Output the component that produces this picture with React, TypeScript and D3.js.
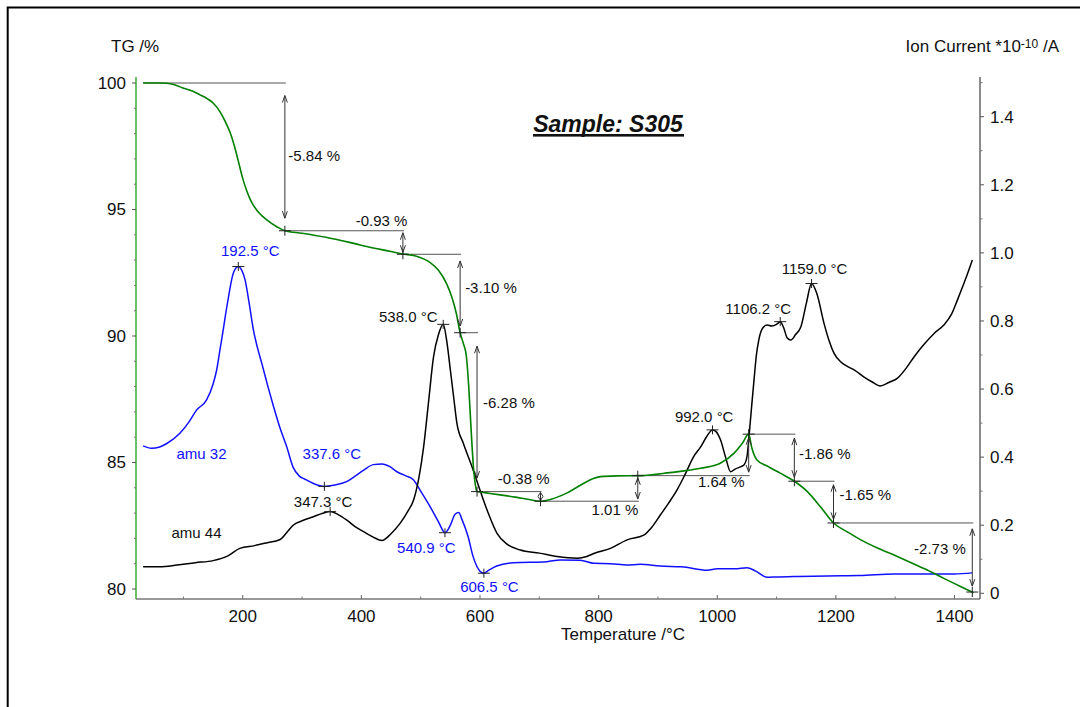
import React from 'react';
import * as d3 from 'd3';

// TG curve (mass %, left axis)
const tgTemps = [32, 60, 72, 85, 99, 115, 128, 140, 150, 162, 170, 179, 186, 192, 200, 207, 212, 217, 228, 241, 258, 271, 300, 340, 380, 420, 450, 470, 490, 516, 530, 544, 553, 560, 566.5, 572, 577, 581, 585, 589, 593, 595, 610, 634, 660, 680, 702, 720, 747, 775, 790, 803, 830, 870, 920, 972, 1005, 1028, 1042, 1053, 1058, 1067, 1085, 1107, 1130, 1152, 1174, 1196, 1220, 1242, 1270, 1298, 1326, 1354, 1382, 1411, 1432];
const tgValues = [100, 100, 99.99, 99.93, 99.8, 99.68, 99.53, 99.38, 99.21, 98.85, 98.5, 98.02, 97.5, 96.96, 96.22, 95.72, 95.43, 95.2, 94.85, 94.58, 94.31, 94.16, 94.06, 93.9, 93.7, 93.48, 93.34, 93.24, 93.17, 92.9, 92.6, 92.05, 91.5, 90.9, 90.13, 89.7, 89.2, 88.0, 86.3, 84.8, 84.0, 83.85, 83.8, 83.72, 83.63, 83.55, 83.47, 83.55, 83.8, 84.18, 84.36, 84.44, 84.47, 84.48, 84.6, 84.77, 84.97, 85.36, 85.75, 86.12, 85.6, 85.1, 84.85, 84.57, 84.26, 83.85, 83.25, 82.61, 82.25, 81.94, 81.62, 81.34, 81.05, 80.75, 80.42, 80.09, 79.85];

// Ion current, m/z 32 (right axis, 1e-10 A)
const amu32Temps = [32, 46, 60, 72, 94, 110, 122, 139, 150, 156, 162, 167, 172, 176, 184, 192.5, 198, 204, 211, 218, 225, 232, 242, 252, 262, 274, 285, 295, 305, 320, 337.6, 355, 375, 390, 404, 420, 435, 448, 460, 475, 488, 500, 516, 530, 540.9, 550, 558, 564, 570, 580, 588, 595, 600, 606.5, 615, 628, 656, 713, 735, 769, 792, 820, 848, 870, 904, 940, 983, 1000, 1030, 1050, 1065, 1084, 1100, 1129, 1186, 1240, 1298, 1354, 1400, 1430];
const amu32Values = [0.433, 0.426, 0.43, 0.44, 0.47, 0.505, 0.538, 0.568, 0.615, 0.656, 0.72, 0.773, 0.83, 0.871, 0.94, 0.96, 0.95, 0.92, 0.85, 0.773, 0.72, 0.676, 0.61, 0.548, 0.49, 0.431, 0.37, 0.345, 0.335, 0.322, 0.314, 0.318, 0.328, 0.345, 0.362, 0.378, 0.38, 0.372, 0.357, 0.345, 0.333, 0.3, 0.254, 0.21, 0.178, 0.2, 0.232, 0.237, 0.215, 0.166, 0.11, 0.078, 0.065, 0.059, 0.068, 0.08, 0.09, 0.093, 0.098, 0.097, 0.088, 0.087, 0.083, 0.085, 0.08, 0.078, 0.068, 0.072, 0.072, 0.075, 0.065, 0.047, 0.048, 0.049, 0.051, 0.052, 0.057, 0.057, 0.057, 0.06];

// Ion current, m/z 44 (right axis, 1e-10 A)
const amu44Temps = [32, 60, 89, 120, 150, 175, 195, 220, 240, 263, 275, 285, 300, 319, 335, 347.3, 360, 375.5, 390, 403.6, 420, 434.6, 450, 465.5, 478, 488, 497, 505, 513, 521.7, 530, 538, 544, 550, 556, 561, 572, 586.5, 600, 614, 628.7, 645, 668, 700, 730, 764, 780, 792, 820, 848, 876, 890, 904, 918, 932, 946, 960, 972, 982, 992, 998, 1005.6, 1014, 1022.5, 1030, 1040, 1045, 1050, 1053, 1058, 1062, 1066, 1070, 1077, 1084, 1092, 1100, 1106.2, 1112, 1118, 1124, 1132, 1141, 1150, 1159, 1168, 1180, 1189, 1197, 1208, 1220, 1232, 1247, 1262, 1274.5, 1290, 1304, 1318, 1332, 1348, 1366, 1382, 1395, 1405, 1418, 1430];
const amu44Values = [0.078, 0.078, 0.083, 0.09, 0.096, 0.11, 0.132, 0.14, 0.148, 0.158, 0.18, 0.2, 0.213, 0.225, 0.235, 0.24, 0.232, 0.215, 0.195, 0.181, 0.165, 0.155, 0.175, 0.206, 0.24, 0.274, 0.34, 0.431, 0.558, 0.695, 0.76, 0.79, 0.74, 0.656, 0.57, 0.5, 0.44, 0.372, 0.303, 0.235, 0.176, 0.145, 0.127, 0.118, 0.108, 0.103, 0.108, 0.117, 0.132, 0.157, 0.171, 0.195, 0.23, 0.265, 0.303, 0.35, 0.401, 0.43, 0.46, 0.48, 0.475, 0.45, 0.4, 0.357, 0.365, 0.372, 0.377, 0.4, 0.45, 0.55, 0.627, 0.7, 0.744, 0.78, 0.788, 0.785, 0.79, 0.798, 0.78, 0.75, 0.744, 0.76, 0.783, 0.85, 0.91, 0.88, 0.793, 0.74, 0.705, 0.68, 0.666, 0.655, 0.636, 0.62, 0.609, 0.62, 0.632, 0.66, 0.695, 0.73, 0.764, 0.788, 0.82, 0.862, 0.92, 0.979];

// Mass-loss steps: boundary temperatures and the change in each step (%)
const stepTemps = [32, 271, 470, 566.5, 595, 702, 866, 1053, 1130, 1196, 1430];
const stepChanges = [-5.84, -0.93, -3.10, -6.28, -0.38, 1.01, 1.64, -1.86, -1.65, -2.73];

// Evaluated peak temperatures on the ion current curves (°C)
const amu32Peaks = [192.5, 337.6, 540.9, 606.5];
const amu44Peaks = [347.3, 538.0, 992.0, 1106.2, 1159.0];

// Axis ticks
const tgTicks = [80, 85, 90, 95, 100];
const tgMinorTicks = [81, 82, 83, 84, 86, 87, 88, 89, 91, 92, 93, 94, 96, 97, 98, 99];
const ionTicks = [0, 0.2, 0.4, 0.6, 0.8, 1.0, 1.2, 1.4];
const ionMinorTicks = [0.1, 0.3, 0.5, 0.7, 0.9, 1.1, 1.3, 1.5];
const tempTicks = [200, 400, 600, 800, 1000, 1200, 1400];
const tempMinorTicks = [100, 300, 500, 700, 900, 1100, 1300];

// Label placement for the step annotations
const stepLabelLayout = [
  { side: 'right', dx: 3.5, dy: 4.5 },
  { side: 'above', dx: 4.5, dy: -5 },
  { side: 'right', dx: 5, dy: 0 },
  { side: 'right', dx: 6, dy: -3.7 },
  { side: 'above', dx: 9, dy: -7.7 },
  { side: 'below', dx: 0.5, dy: 14 },
  { side: 'below', dx: -4, dy: 11 },
  { side: 'right', dx: 4.6, dy: 1 },
  { side: 'right', dx: 6, dy: -2 },
  { side: 'left', dx: -6.5, dy: -4 },
];
const amu32LabelOffsets = [[12, -10], [7.5, -27], [-18.6, 20.6], [5.6, 18.4]];
const amu44LabelOffsets = [[-7, -5], [-35, -2.6], [-8.3, -8.3], [-22, -7.7], [3, -10]];

const FONT = '"Liberation Sans", Arial, Helvetica, sans-serif';
const GREEN = '#008000';
const BLUE = '#1010ff';

function interp(ts: number[], vs: number[], t: number) {
  const i = d3.bisectLeft(ts, t);
  if (i <= 0) return vs[0];
  if (i >= ts.length) return vs[vs.length - 1];
  const t0 = ts[i - 1], t1 = ts[i];
  const f = (t - t0) / (t1 - t0);
  return vs[i - 1] + f * (vs[i] - vs[i - 1]);
}

function arrowPath(x: number, ya: number, yb: number) {
  const len = Math.abs(yb - ya);
  const gap = Math.max(0.5, 0.085 * len);
  const dir = yb > ya ? 1 : -1;
  const a = ya + dir * gap;
  const b = yb - dir * gap;
  const h = Math.min(7, Math.abs(b - a) / 2);
  const w = 2.5;
  return `M${x},${a}L${x},${b}` +
    `M${x - w},${a + dir * h}L${x},${a}L${x + w},${a + dir * h}` +
    `M${x - w},${b - dir * h}L${x},${b}L${x + w},${b - dir * h}`;
}

function crossPath(cx: number, cy: number, hw = 6, hh = 4.5) {
  return `M${cx - hw},${cy}L${cx + hw},${cy}M${cx},${cy - hh}L${cx},${cy + hh}`;
}

export default function App() {
  const x = d3.scaleLinear().domain([20, 1443]).range([136, 980]);
  const yTG = d3.scaleLinear().domain([80, 100]).range([589, 83]);
  const yIon = d3.scaleLinear().domain([0, 1.4]).range([593.3, 116.7]);

  const plotTop = 77;
  const plotBottom = 599;
  const plotLeft = x.range()[0];
  const plotRight = x.range()[1];

  const tgPath = d3.line<number>()
    .x((_, i) => x(tgTemps[i]))
    .y((v) => yTG(v))
    .curve(d3.curveMonotoneX)(tgValues) as string;
  const amu32Path = d3.line<number>()
    .x((_, i) => x(amu32Temps[i]))
    .y((v) => yIon(v))
    .curve(d3.curveMonotoneX)(amu32Values) as string;
  const amu44Path = d3.line<number>()
    .x((_, i) => x(amu44Temps[i]))
    .y((v) => yIon(v))
    .curve(d3.curveMonotoneX)(amu44Values) as string;

  // cumulative TG levels at the step boundaries
  const levels: number[] = [100];
  stepChanges.forEach((c, i) => levels.push(Math.round((levels[i] + c) * 100) / 100));

  const steps = stepChanges.map((c, i) => {
    const x0 = x(stepTemps[i]);
    const x1 = x(stepTemps[i + 1]);
    const ya = yTG(levels[i]);
    const yb = yTG(levels[i + 1]);
    const lay = stepLabelLayout[i];
    const tx = x1 + lay.dx;
    let ty = 0;
    let anchor: 'start' | 'end' = 'start';
    if (lay.side === 'right') { ty = (ya + yb) / 2 + lay.dy; anchor = 'start'; }
    else if (lay.side === 'left') { ty = (ya + yb) / 2 + lay.dy; anchor = 'end'; }
    else { ty = ya + lay.dy; anchor = 'end'; }
    return { c, x0, x1, ya, yb, tx, ty, anchor };
  });

  const peaks32 = amu32Peaks.map((t, i) => ({
    t, cx: x(t), cy: yIon(interp(amu32Temps, amu32Values, t)),
    dx: amu32LabelOffsets[i][0], dy: amu32LabelOffsets[i][1],
  }));
  const peaks44 = amu44Peaks.map((t, i) => ({
    t, cx: x(t), cy: yIon(interp(amu44Temps, amu44Values, t)),
    dx: amu44LabelOffsets[i][0], dy: amu44LabelOffsets[i][1],
  }));

  return (
    <svg
      width={1080}
      height={707}
      style={{ position: 'absolute', left: 0, top: 0, background: '#fff' }}
      fontFamily={FONT}
    >
      <rect x={0} y={0} width={1080} height={707} fill="#fff" />
      {/* page frame */}
      <path d="M7.7,710L7.7,7.5L1085,7.5" fill="none" stroke="#000" strokeWidth={2} />

      {/* axis titles */}
      <text x={111} y={52} fontSize={17} fill="#111">TG /%</text>
      <text x={1059} y={52} fontSize={17} fill="#111" textAnchor="end">
        Ion Current *10<tspan dy={-4.3} fontSize={12}>-10</tspan><tspan dy={4.3}> /A</tspan>
      </text>
      <text x={623} y={639.5} fontSize={17} fill="#111" textAnchor="middle">Temperature /°C</text>

      {/* title */}
      <text x={608} y={131.5} fontSize={23} fontWeight="bold" fontStyle="italic" fill="#111" textAnchor="middle">Sample: S305</text>
      <rect x={533} y={134} width={151} height={2.6} fill="#111" />

      {/* bottom axis */}
      <line x1={plotLeft} x2={plotRight} y1={plotBottom} y2={plotBottom} stroke="#777" strokeWidth={1.3} />
      {tempTicks.map((t) => (
        <g key={`xt${t}`}>
          <line x1={x(t)} x2={x(t)} y1={plotBottom} y2={plotBottom - 4} stroke="#666" />
          <text x={x(t)} y={621.5} fontSize={17} fill="#111" textAnchor="middle">{t}</text>
        </g>
      ))}
      {tempMinorTicks.map((t) => (
        <line key={`xm${t}`} x1={x(t)} x2={x(t)} y1={plotBottom} y2={plotBottom - 2.5} stroke="#777" />
      ))}

      {/* left TG axis */}
      <line x1={plotLeft} x2={plotLeft} y1={plotTop} y2={plotBottom} stroke="#3aaa3a" strokeWidth={1.5} />
      {tgTicks.map((v) => (
        <g key={`yl${v}`}>
          <line x1={plotLeft - 4} x2={plotLeft} y1={yTG(v)} y2={yTG(v)} stroke="#555" />
          <text x={126} y={yTG(v)} dy="0.35em" fontSize={17} fill="#111" textAnchor="end">{v}</text>
        </g>
      ))}
      {tgMinorTicks.map((v) => (
        <line key={`ylm${v}`} x1={plotLeft - 2} x2={plotLeft} y1={yTG(v)} y2={yTG(v)} stroke="#777" />
      ))}

      {/* right ion current axis */}
      <line x1={plotRight} x2={plotRight} y1={plotTop} y2={plotBottom} stroke="#666" strokeWidth={1.5} />
      {ionTicks.map((v) => (
        <g key={`yr${v}`}>
          <line x1={plotRight} x2={plotRight + 4} y1={yIon(v)} y2={yIon(v)} stroke="#555" />
          <text x={990} y={yIon(v)} dy="0.35em" fontSize={17} fill="#111">{v === 0 ? '0' : v.toFixed(1)}</text>
        </g>
      ))}
      {ionMinorTicks.map((v) => (
        <line key={`yrm${v}`} x1={plotRight} x2={plotRight + 2.5} y1={yIon(v)} y2={yIon(v)} stroke="#777" />
      ))}

      {/* step annotations: horizontal levels */}
      {steps.map((s, i) => (
        <line key={`h${i}`} x1={s.x0} x2={s.x1 + 1} y1={s.ya} y2={s.ya} stroke="#555" strokeWidth={1} />
      ))}

      {/* curves */}
      <path d={amu32Path} fill="none" stroke={BLUE} strokeWidth={1.5} />
      <path d={amu44Path} fill="none" stroke="#000" strokeWidth={1.5} />
      <path d={tgPath} fill="none" stroke={GREEN} strokeWidth={1.6} />

      {/* step annotations: arrows, markers, labels */}
      {steps.map((s, i) => (
        <g key={`s${i}`}>
          <path d={arrowPath(s.x1, s.ya, s.yb)} fill="none" stroke="#333" strokeWidth={1} />
          <path d={crossPath(s.x1, s.yb, 6, 5)} fill="none" stroke="#222" strokeWidth={1} />
          <text x={s.tx} y={s.ty} fontSize={15} fill="#111" textAnchor={s.anchor}>{`${s.c.toFixed(2)} %`}</text>
        </g>
      ))}

      {/* peak markers */}
      {peaks32.map((p) => (
        <g key={`p32${p.t}`}>
          <path d={crossPath(p.cx, p.cy)} fill="none" stroke="#222" strokeWidth={1} />
          <text x={p.cx + p.dx} y={p.cy + p.dy} fontSize={15} fill={BLUE} textAnchor="middle">{`${p.t.toFixed(1)} °C`}</text>
        </g>
      ))}
      {peaks44.map((p) => (
        <g key={`p44${p.t}`}>
          <path d={crossPath(p.cx, p.cy)} fill="none" stroke="#222" strokeWidth={1} />
          <text x={p.cx + p.dx} y={p.cy + p.dy} fontSize={15} fill="#111" textAnchor="middle">{`${p.t.toFixed(1)} °C`}</text>
        </g>
      ))}

      {/* series names */}
      <text x={176.5} y={459} fontSize={15} fill={BLUE}>amu 32</text>
      <text x={171.5} y={538} fontSize={15} fill="#111">amu 44</text>
    </svg>
  );
}
